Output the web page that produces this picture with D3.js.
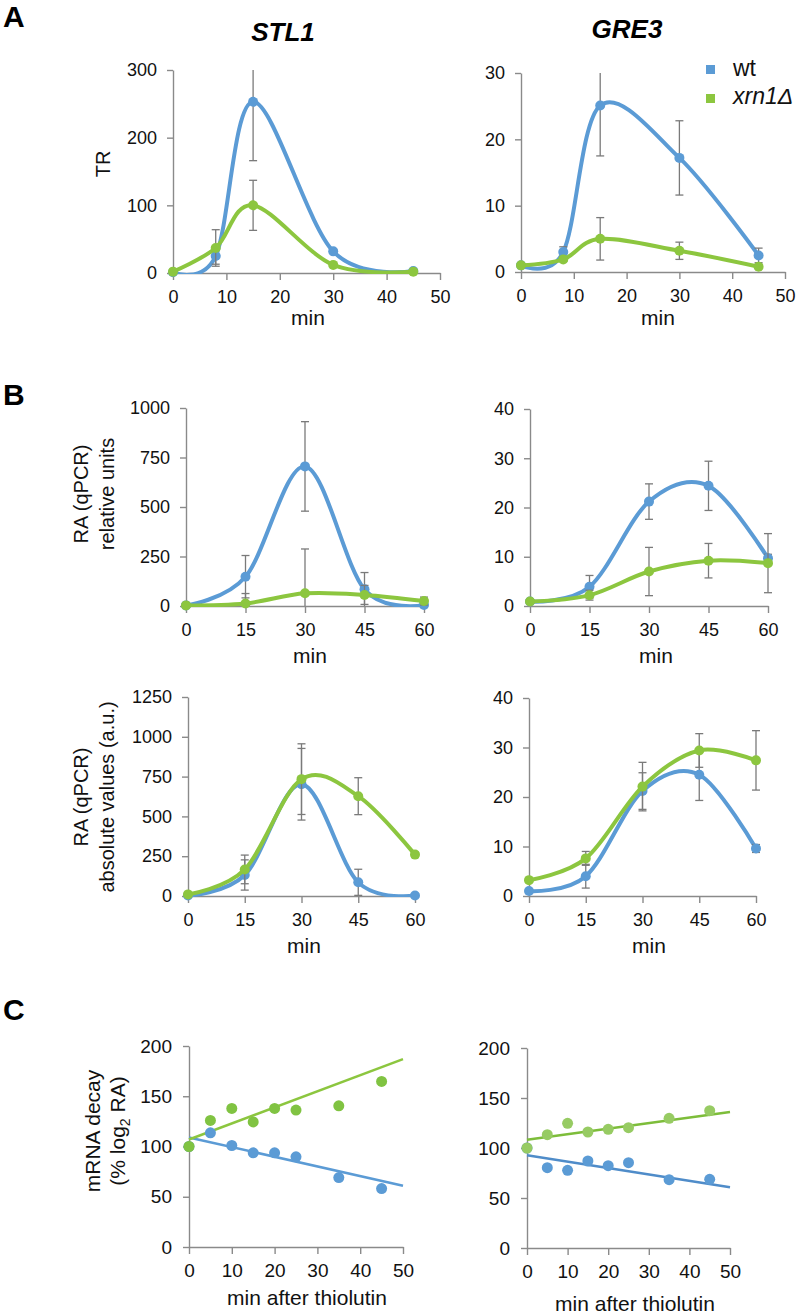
<!DOCTYPE html>
<html><head><meta charset="utf-8">
<script src="https://cdn.jsdelivr.net/npm/d3@7"></script>
<style>
body{margin:0;background:#fff}
svg{display:block}
text{font-family:"Liberation Sans", Arial, sans-serif;}
</style>
</head><body>
<svg id="c" width="800" height="1315"></svg>
<script>
// ---------------- DATA ----------------
const timesA = [0, 8, 15, 30, 45];
const timesB = [0, 15, 30, 45, 60];
const timesC = [0, 5, 10, 15, 20, 25, 35, 45];
const trendX = [0, 50];
const seriesNames = ["wt", "xrn1Δ"];

// A: transcription rate (TR)
const stl1TR_wt      = [1, 25, 253, 32, 3];
const stl1TR_wtErr   = [0, 12, 87, 3, 0];
const stl1TR_xrn     = [2, 37, 100, 12, 2];
const stl1TR_xrnErr  = [0, 27, 37, 2, 0];
const gre3TR_wt      = [1.0, 3.0, 25.1, 17.2, 2.5];
const gre3TR_wtErr   = [0, 0.8, 7.6, 5.6, 1.1];
const gre3TR_xrn     = [1.0, 1.9, 5.0, 3.2, 0.8];
const gre3TR_xrnErr  = [0, 0.3, 3.2, 1.3, 0.3];

// B: RA (qPCR) relative units
const stl1Rel_wt     = [3, 148, 705, 84, 5];
const stl1Rel_wtErr  = [0, 107, 226, 85, 0];
const stl1Rel_xrn    = [3, 13, 64, 56, 25];
const stl1Rel_xrnErr = [0, 50, 224, 48, 20];
const gre3Rel_wt     = [0.9, 3.9, 21.2, 24.4, 9.7];
const gre3Rel_wtErr  = [0, 2.3, 3.6, 5.0, 0.8];
const gre3Rel_xrn    = [0.9, 2.2, 7.0, 9.2, 8.7];
const gre3Rel_xrnErr = [0, 1.0, 4.9, 3.5, 6.0];

// B: RA (qPCR) absolute values
const stl1Abs_wt     = [3, 132, 702, 86, 3];
const stl1Abs_wtErr  = [0, 95, 225, 82, 0];
const stl1Abs_xrn    = [10, 167, 734, 627, 260];
const stl1Abs_xrnErr = [0, 90, 222, 116, 15];
const gre3Abs_wt     = [1.0, 4.0, 21.2, 24.5, 9.6];
const gre3Abs_wtErr  = [0, 2.4, 3.7, 5.2, 0.8];
const gre3Abs_xrn    = [3.2, 7.6, 22.1, 29.4, 27.4];
const gre3Abs_xrnErr = [0, 1.4, 4.9, 3.4, 6.0];

// C: mRNA decay (% log2 RA)
const stl1Decay_wt   = [100, 113.6, 101, 93.7, 93.7, 89.7, 69.1, 58.1];
const stl1Decay_xrn  = [100, 125.9, 137.9, 124.4, 137.9, 136.2, 140.5, 164.8];
const gre3Decay_wt   = [100, 80.3, 77.7, 87, 82.3, 85.3, 68.3, 68.7];
const gre3Decay_xrn  = [100, 113.3, 124.7, 116, 118.7, 120.3, 129.7, 137.3];
const stl1Trend_wt   = [109, 61];
const stl1Trend_xrn  = [107, 187];
const gre3Trend_wt   = [92.7, 60.7];
const gre3Trend_xrn  = [108.3, 136];

// tick labels
const ticksMinA = [0, 10, 20, 30, 40, 50];
const ticksMinB = [0, 15, 30, 45, 60];
const ticksTR_stl1 = [0, 100, 200, 300];
const ticksTR_gre3 = [0, 10, 20, 30];
const ticksRel_stl1 = [0, 250, 500, 750, 1000];
const ticks40 = [0, 10, 20, 30, 40];
const ticksAbs_stl1 = [0, 250, 500, 750, 1000, 1250];
const ticksDecay = [0, 50, 100, 150, 200];

// ---------------- STYLE ----------------
const BLUE = "#5b9bd5", GREEN = "#8cc63f";
const AXIS = "#8a8a8a", ERR = "#7a7a7a";
const FONT = '"Liberation Sans", Arial, sans-serif';
const svg = d3.select("#c");
let clipId = 0;

function panel(cfg) {
  const x = d3.scaleLinear().domain(cfg.xd).range(cfg.xr);
  const y = d3.scaleLinear().domain(cfg.yd).range(cfg.yr);
  const g = svg.append("g");

  const ax = g.append("g").attr("transform", `translate(0,${cfg.yr[0]})`)
    .call(d3.axisBottom(x).tickValues(cfg.xt).tickSize(7).tickSizeOuter(0).tickPadding(10).tickFormat(d3.format("d")));
  const ay = g.append("g").attr("transform", `translate(${cfg.xr[0]},0)`)
    .call(d3.axisLeft(y).tickValues(cfg.yt).tickSize(6).tickSizeOuter(0).tickPadding(cfg.yPad || 10).tickFormat(d3.format("d")));
  [ax, ay].forEach(a => {
    a.attr("font-family", FONT).attr("font-size", cfg.tf || 18);
    a.select(".domain").attr("stroke", AXIS).attr("stroke-width", 1.4);
    a.selectAll(".tick line").attr("stroke", AXIS).attr("stroke-width", 1.4);
    a.selectAll(".tick text").attr("fill", "#111");
  });

  const id = "clip" + (clipId++);
  g.append("clipPath").attr("id", id).append("rect")
    .attr("x", cfg.xr[0]).attr("y", cfg.yr[1] - 4)
    .attr("width", cfg.xr[1] - cfg.xr[0] + 4).attr("height", cfg.yr[0] - cfg.yr[1] + 5);

  if (cfg.type === "curve") {
    cfg.series.forEach(s => {
      const pts = cfg.t.map((t, i) => ({t, v: s.v[i], e: s.e[i]}));
      g.append("path").datum(pts)
        .attr("clip-path", `url(#${id})`)
        .attr("d", d3.line().x(d => x(d.t)).y(d => y(d.v)).curve(d3.curveCatmullRom.alpha(0)))
        .attr("fill", "none").attr("stroke", s.color).attr("stroke-width", 4).attr("stroke-linecap", "round");
      const eg = g.append("g").attr("stroke", ERR).attr("stroke-width", 1.3);
      pts.filter(d => d.e > 0).forEach(d => {
        const top = Math.min(d.v + d.e, cfg.yd[1]);
        const bot = Math.max(d.v - d.e, cfg.yd[0]);
        const cx = x(d.t);
        eg.append("line").attr("x1", cx).attr("x2", cx).attr("y1", y(top)).attr("y2", y(bot));
        if (d.v + d.e <= cfg.yd[1]) eg.append("line").attr("x1", cx - 4).attr("x2", cx + 4).attr("y1", y(top)).attr("y2", y(top));
        if (d.v - d.e >= cfg.yd[0]) eg.append("line").attr("x1", cx - 4).attr("x2", cx + 4).attr("y1", y(bot)).attr("y2", y(bot));
      });
      g.append("g").selectAll("circle").data(pts).join("circle")
        .attr("cx", d => x(d.t)).attr("cy", d => y(d.v)).attr("r", 5).attr("fill", s.color);
    });
  } else {
    cfg.series.forEach(s => {
      const tp = trendX.map((t, i) => ({t, v: s.trend[i]}));
      g.append("path").datum(tp)
        .attr("d", d3.line().x(d => x(d.t)).y(d => y(d.v)))
        .attr("fill", "none").attr("stroke", s.lineColor).attr("stroke-width", 2.5);
    });
    cfg.series.forEach(s => {
      const pts = cfg.t.map((t, i) => ({t, v: s.v[i]}));
      g.append("g").selectAll("circle").data(pts).join("circle")
        .attr("cx", d => x(d.t)).attr("cy", d => y(d.v)).attr("r", 5.5).attr("fill", s.color);
    });
  }

  // x label
  if (cfg.xlabel) {
    g.append("text").attr("x", cfg.xlabel.x).attr("y", cfg.xlabel.y)
      .attr("text-anchor", "middle").attr("font-size", 21).attr("fill", "#111").text(cfg.xlabel.text);
  }
}

// ---------------- PANELS ----------------
panel({type: "curve", xr: [173, 440], yr: [273, 70], xd: [0, 50], yd: [0, 300], xt: ticksMinA, yt: ticksTR_stl1, t: timesA,
  series: [{v: stl1TR_wt, e: stl1TR_wtErr, color: BLUE}, {v: stl1TR_xrn, e: stl1TR_xrnErr, color: GREEN}],
  xlabel: {x: 308, y: 325, text: "min"}});
panel({type: "curve", xr: [521, 785], yr: [272, 73], xd: [0, 50], yd: [0, 30], xt: ticksMinA, yt: ticksTR_gre3, t: timesA,
  series: [{v: gre3TR_wt, e: gre3TR_wtErr, color: BLUE}, {v: gre3TR_xrn, e: gre3TR_xrnErr, color: GREEN}],
  xlabel: {x: 658, y: 325, text: "min"}});
panel({type: "curve", xr: [186, 424], yr: [606, 408], xd: [0, 60], yd: [0, 1000], xt: ticksMinB, yt: ticksRel_stl1, t: timesB,
  series: [{v: stl1Rel_wt, e: stl1Rel_wtErr, color: BLUE}, {v: stl1Rel_xrn, e: stl1Rel_xrnErr, color: GREEN}],
  xlabel: {x: 310, y: 663, text: "min"}});
panel({type: "curve", xr: [530, 768], yr: [606, 409], xd: [0, 60], yd: [0, 40], xt: ticksMinB, yt: ticks40, t: timesB,
  series: [{v: gre3Rel_wt, e: gre3Rel_wtErr, color: BLUE}, {v: gre3Rel_xrn, e: gre3Rel_xrnErr, color: GREEN}],
  xlabel: {x: 656, y: 663, text: "min"}});
panel({type: "curve", xr: [188, 415], yr: [896, 697], xd: [0, 60], yd: [0, 1250], xt: ticksMinB, yt: ticksAbs_stl1, t: timesB,
  series: [{v: stl1Abs_wt, e: stl1Abs_wtErr, color: BLUE}, {v: stl1Abs_xrn, e: stl1Abs_xrnErr, color: GREEN}],
  xlabel: {x: 304, y: 953, text: "min"}});
panel({type: "curve", xr: [529, 756], yr: [896, 698], xd: [0, 60], yd: [0, 40], xt: ticksMinB, yt: ticks40, t: timesB,
  series: [{v: gre3Abs_wt, e: gre3Abs_wtErr, color: BLUE}, {v: gre3Abs_xrn, e: gre3Abs_xrnErr, color: GREEN}],
  xlabel: {x: 649, y: 953, text: "min"}});
panel({type: "scatter", xr: [189, 403], yr: [1247, 1046], xd: [0, 50], yd: [0, 200], xt: ticksMinA, yt: ticksDecay, t: timesC, tf: 19, yPad: 11,
  series: [{v: stl1Decay_wt, trend: stl1Trend_wt, color: BLUE, lineColor: BLUE},
           {v: stl1Decay_xrn, trend: stl1Trend_xrn, color: "#80c342", lineColor: GREEN}],
  xlabel: {x: 307, y: 1305, text: "min after thiolutin"}});
panel({type: "scatter", xr: [527, 730], yr: [1248, 1048], xd: [0, 50], yd: [0, 200], xt: ticksMinA, yt: ticksDecay, t: timesC, tf: 19, yPad: 11,
  series: [{v: gre3Decay_wt, trend: gre3Trend_wt, color: BLUE, lineColor: "#4f8cc9"},
           {v: gre3Decay_xrn, trend: gre3Trend_xrn, color: "#97cb63", lineColor: "#7dbd3a"}],
  xlabel: {x: 635, y: 1311, text: "min after thiolutin"}});

// ---------------- TEXT ----------------
function letter(t, x, y) {
  svg.append("text").attr("x", x).attr("y", y).attr("font-size", 30).attr("font-weight", "bold").attr("fill", "#000").text(t);
}
letter("A", 3, 27); letter("B", 3, 405); letter("C", 3, 1020);

svg.append("text").attr("x", 283).attr("y", 41).attr("text-anchor", "middle").attr("font-size", 26)
  .attr("font-weight", "bold").attr("font-style", "italic").text("STL1");
svg.append("text").attr("x", 627).attr("y", 38).attr("text-anchor", "middle").attr("font-size", 26)
  .attr("font-weight", "bold").attr("font-style", "italic").text("GRE3");

function ylabel(lines, cy) {
  lines.forEach(l => {
    const t = svg.append("text").attr("transform", `translate(${l.x},${cy}) rotate(-90)`)
      .attr("text-anchor", "middle").attr("font-size", l.fs || 20).attr("fill", "#111");
    if (typeof l.text === "string") t.text(l.text);
    else l.text(t);
  });
}
ylabel([{x: 110, text: "TR"}], 164);
ylabel([{x: 88, text: "RA (qPCR)"}, {x: 114, text: "relative units"}], 494);
ylabel([{x: 88, text: "RA (qPCR)"}, {x: 114, text: "absolute values (a.u.)"}], 797);
ylabel([{x: 100, fs: 21, text: "mRNA decay"},
        {x: 125, fs: 21, text: t => {
          t.append("tspan").text("(% log");
          t.append("tspan").attr("font-size", 14).attr("dy", 5).text("2");
          t.append("tspan").attr("dy", -5).text(" RA)");
        }}], 1131);

// legend
const legend = svg.append("g");
[BLUE, GREEN].forEach((c, i) => {
  legend.append("rect").attr("x", 706).attr("y", 65 + i * 29).attr("width", 9).attr("height", 9).attr("fill", c);
  legend.append("text").attr("x", 733).attr("y", 76 + i * 28).attr("font-size", 23).attr("fill", "#111")
    .attr("font-style", i === 1 ? "italic" : "normal").text(seriesNames[i]);
});
</script>
</body></html>
